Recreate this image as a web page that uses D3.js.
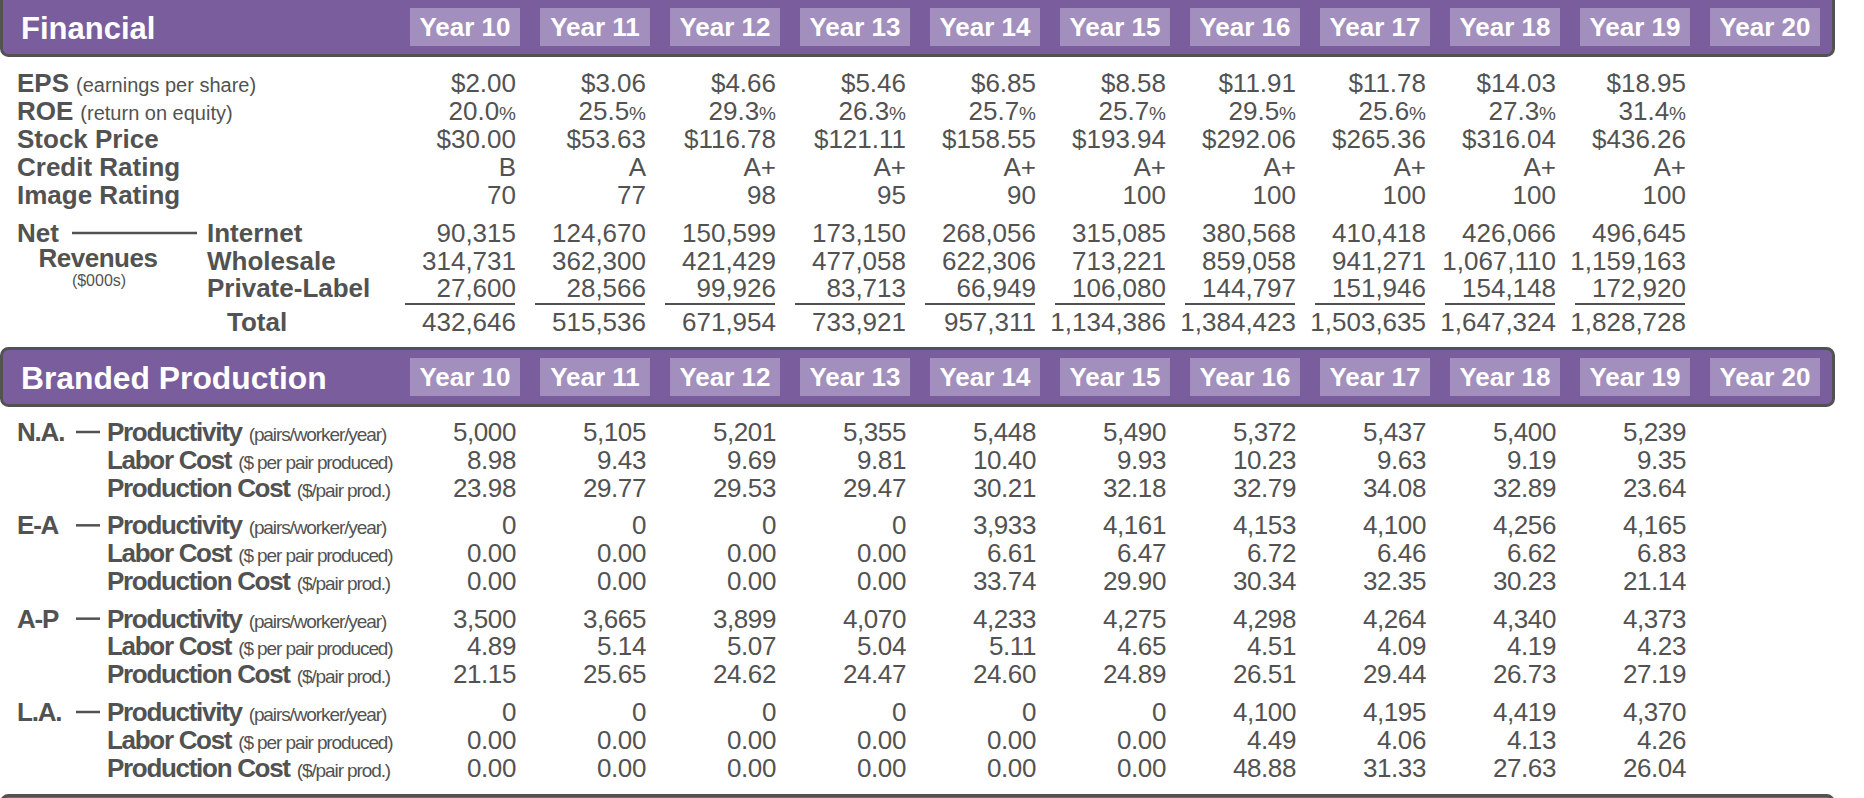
<!DOCTYPE html>
<html>
<head>
<meta charset="utf-8">
<script src="https://cdn.jsdelivr.net/npm/d3@7"></script>
<style>
  html, body { margin: 0; padding: 0; background: #fff; }
  svg text { font-family: "Liberation Sans", Arial, Helvetica, sans-serif; }
</style>
</head>
<body>
<svg id="chart" width="1864" height="798"></svg>
<script>
// --- data ---
const years = ["Year 10","Year 11","Year 12","Year 13","Year 14","Year 15","Year 16","Year 17","Year 18","Year 19","Year 20"]

const eps = [2.00, 3.06, 4.66, 5.46, 6.85, 8.58, 11.91, 11.78, 14.03, 18.95]
const roe = [20.0, 25.5, 29.3, 26.3, 25.7, 25.7, 29.5, 25.6, 27.3, 31.4]
const stockPrice = [30.00, 53.63, 116.78, 121.11, 158.55, 193.94, 292.06, 265.36, 316.04, 436.26]
const creditRating = ["B","A","A+","A+","A+","A+","A+","A+","A+","A+"]
const imageRating = [70, 77, 98, 95, 90, 100, 100, 100, 100, 100]

const revInternet = [90315, 124670, 150599, 173150, 268056, 315085, 380568, 410418, 426066, 496645]
const revWholesale = [314731, 362300, 421429, 477058, 622306, 713221, 859058, 941271, 1067110, 1159163]
const revPrivate = [27600, 28566, 99926, 83713, 66949, 106080, 144797, 151946, 154148, 172920]
const revTotal = [432646, 515536, 671954, 733921, 957311, 1134386, 1384423, 1503635, 1647324, 1828728]

const regions = ["N.A.", "E-A", "A-P", "L.A."]
const productivity = [
  [5000, 5105, 5201, 5355, 5448, 5490, 5372, 5437, 5400, 5239],
  [0, 0, 0, 0, 3933, 4161, 4153, 4100, 4256, 4165],
  [3500, 3665, 3899, 4070, 4233, 4275, 4298, 4264, 4340, 4373],
  [0, 0, 0, 0, 0, 0, 4100, 4195, 4419, 4370]
]
const laborCost = [
  [8.98, 9.43, 9.69, 9.81, 10.40, 9.93, 10.23, 9.63, 9.19, 9.35],
  [0, 0, 0, 0, 6.61, 6.47, 6.72, 6.46, 6.62, 6.83],
  [4.89, 5.14, 5.07, 5.04, 5.11, 4.65, 4.51, 4.09, 4.19, 4.23],
  [0, 0, 0, 0, 0, 0, 4.49, 4.06, 4.13, 4.26]
]
const productionCost = [
  [23.98, 29.77, 29.53, 29.47, 30.21, 32.18, 32.79, 34.08, 32.89, 23.64],
  [0, 0, 0, 0, 33.74, 29.90, 30.34, 32.35, 30.23, 21.14],
  [21.15, 25.65, 24.62, 24.47, 24.60, 24.89, 26.51, 29.44, 26.73, 27.19],
  [0, 0, 0, 0, 0, 0, 48.88, 31.33, 27.63, 26.04]
]

// --- look ---
const INK = "#525252"
const PURPLE = "#7a5d9c"
const BOX = "#a38fbd"

const svg = d3.select("#chart")

const x = d3.scaleBand().domain(years).range([410, 1820]).paddingInner(20 / 130)
const colRight = i => x(years[i]) + x.bandwidth() - 4

const fmtMoney = d3.format("$.2f")
const fmtInt = d3.format(",")
const fmt2 = d3.format(".2f")
const fmt1 = d3.format(".1f")

function headerBar(y0, h){
  const g = svg.append("g")
  g.append("rect")
    .attr("x", 1.5).attr("y", y0)
    .attr("width", 1832).attr("height", h)
    .attr("rx", 7)
    .attr("fill", PURPLE)
    .attr("stroke", INK)
    .attr("stroke-width", 3)
  return g
}

function yearBoxes(g, top){
  g.selectAll("rect.yr").data(years).join("rect")
    .attr("class", "yr")
    .attr("x", d => x(d)).attr("y", top)
    .attr("width", x.bandwidth()).attr("height", 38)
    .attr("fill", BOX)
  g.selectAll("text.yr").data(years).join("text")
    .attr("class", "yr")
    .attr("x", d => x(d) + x.bandwidth() / 2)
    .attr("y", top + 28)
    .attr("text-anchor", "middle")
    .attr("fill", "#fff")
    .attr("font-weight", "bold")
    .attr("font-size", 26)
    .text(d => d)
}

// value row, right aligned in each year column
function valueRow(vals, y, fmt, opts = {}){
  const t = svg.append("g").selectAll("text").data(vals).join("text")
    .attr("x", (d, i) => colRight(i))
    .attr("y", y)
    .attr("text-anchor", "end")
    .attr("fill", INK)
    .attr("font-size", 26)
    .attr("letter-spacing", opts.ls || 0)
  if(opts.pct){
    t.append("tspan").text(d => fmt(d))
    t.append("tspan").attr("font-size", 19).text("%")
  } else {
    t.text(d => fmt(d))
  }
}

function label(xp, y, bold, note, opts = {}){
  const t = svg.append("text")
    .attr("x", xp).attr("y", y)
    .attr("fill", INK)
  t.append("tspan")
    .attr("font-weight", "bold")
    .attr("font-size", 26)
    .attr("letter-spacing", opts.ls || 0)
    .text(bold)
  if(note){
    t.append("tspan")
      .attr("font-size", opts.noteSize || 20)
      .attr("letter-spacing", opts.noteLs || 0)
      .attr("dx", 7)
      .text(note)
  }
  return t
}

// ================= Financial =================
const fin = headerBar(-10, 65.5)
fin.append("text")
  .attr("x", 21).attr("y", 39)
  .attr("fill", "#fff").attr("font-weight", "bold").attr("font-size", 31)
  .text("Financial")
yearBoxes(fin, 8)

const yFin = d3.scaleLinear().domain([0, 4]).range([92, 204])
label(17, yFin(0), "EPS", "(earnings per share)")
label(17, yFin(1), "ROE", "(return on equity)")
label(17, yFin(2), "Stock Price")
label(17, yFin(3), "Credit Rating")
label(17, yFin(4), "Image Rating")

valueRow(eps, yFin(0), fmtMoney)
valueRow(roe, yFin(1), fmt1, {pct: true})
valueRow(stockPrice, yFin(2), fmtMoney)
valueRow(creditRating, yFin(3), d => d)
valueRow(imageRating, yFin(4), d => d)

const yRev = d3.scaleLinear().domain([0, 2]).range([242, 297])
label(17, yRev(0), "Net")
svg.append("line")
  .attr("x1", 72).attr("x2", 197)
  .attr("y1", yRev(0) - 9).attr("y2", yRev(0) - 9)
  .attr("stroke", INK).attr("stroke-width", 2.5)
svg.append("text").attr("x", 98).attr("y", yRev(1) - 3)
  .attr("text-anchor", "middle").attr("fill", INK)
  .attr("font-weight", "bold").attr("font-size", 26).attr("letter-spacing", -0.5)
  .text("Revenues")
svg.append("text").attr("x", 99).attr("y", yRev(1) + 16)
  .attr("text-anchor", "middle").attr("fill", INK)
  .attr("font-size", 16)
  .text("($000s)")
label(207, yRev(0), "Internet")
label(207, yRev(1), "Wholesale")
label(207, yRev(2), "Private-Label")
label(227, 331, "Total")

valueRow(revInternet, yRev(0), fmtInt)
valueRow(revWholesale, yRev(1), fmtInt)
valueRow(revPrivate, yRev(2), fmtInt)

svg.append("g").selectAll("line").data(revTotal).join("line")
  .attr("x1", (d, i) => x(years[i]) - 5)
  .attr("x2", (d, i) => x(years[i]) + x.bandwidth() - 5)
  .attr("y1", 304).attr("y2", 304)
  .attr("stroke", INK).attr("stroke-width", 2)
valueRow(revTotal, 331, fmtInt)

// ================= Branded Production =================
const bp = headerBar(348.5, 57)
bp.append("text")
  .attr("x", 21).attr("y", 389)
  .attr("fill", "#fff").attr("font-weight", "bold").attr("font-size", 31.8)
  .text("Branded Production")
yearBoxes(bp, 358)

const yGroup = d3.scaleLinear().domain([0, regions.length - 1]).range([441, 721])
const yInner = d3.scaleLinear().domain([0, 2]).range([0, 55.6])

regions.forEach((r, k) => {
  const y0 = yGroup(k)
  label(17, y0, r, null, {ls: -1.2})
  svg.append("line")
    .attr("x1", 76).attr("x2", 100)
    .attr("y1", y0 - 9).attr("y2", y0 - 9)
    .attr("stroke", INK).attr("stroke-width", 2.5)
  const cond = {ls: -1.3, noteSize: 19, noteLs: -1.1}
  label(107, y0 + yInner(0), "Productivity", "(pairs/worker/year)", cond)
  label(107, y0 + yInner(1), "Labor Cost", "($ per pair produced)", cond)
  label(107, y0 + yInner(2), "Production Cost", "($/pair prod.)", cond)

  valueRow(productivity[k], y0 + yInner(0), fmtInt, {ls: -0.4})
  valueRow(laborCost[k], y0 + yInner(1), fmt2, {ls: -0.4})
  valueRow(productionCost[k], y0 + yInner(2), fmt2, {ls: -0.4})
})

// top edge of the next panel
headerBar(795.5, 40)
</script>
</body>
</html>
